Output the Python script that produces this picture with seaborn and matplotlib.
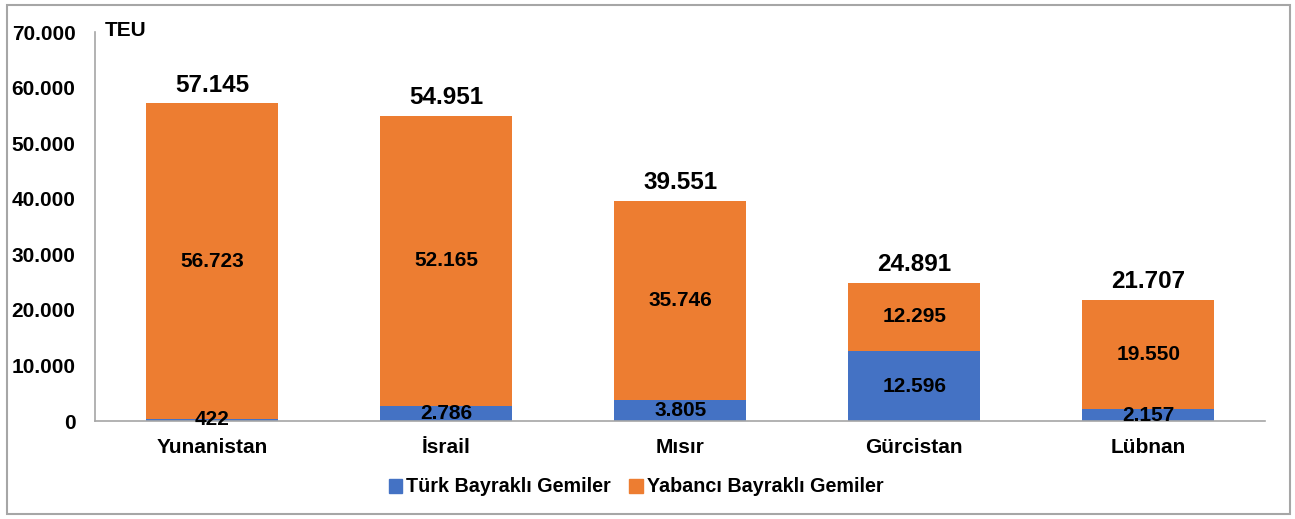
import matplotlib
matplotlib.use("Agg")
import matplotlib.pyplot as plt
import matplotlib.patches as mpatches
import seaborn as sns
import pandas as pd

categories = ["Yunanistan", "İsrail", "Mısır", "Gürcistan", "Lübnan"]
turk = [422, 2786, 3805, 12596, 2157]
foreign = [56723, 52165, 35746, 12295, 19550]
totals = [57145, 54951, 39551, 24891, 21707]
yticks = [0, 10000, 20000, 30000, 40000, 50000, 60000, 70000]

sns.set_theme(style="white")
plt.rcParams['font.family'] = ['Liberation Sans', 'DejaVu Sans']
plt.rcParams['text.color'] = 'black'
plt.rcParams['xtick.color'] = 'black'
plt.rcParams['ytick.color'] = 'black'

def fmt(v):
    return f"{int(v):,}".replace(",", ".")

blue = "#4472C4"
orange = "#ED7D31"

df = pd.DataFrame({"cat": categories, "turk": turk, "foreign": foreign, "total": totals})

fig = plt.figure(figsize=(12.95, 5.19), dpi=100)
ax = fig.add_axes([0.0734, 0.1888, 0.9036, 0.7495])

sns.barplot(data=df, x="cat", y="total", color=orange, width=0.565, saturation=1, ax=ax, linewidth=0)
sns.barplot(data=df, x="cat", y="turk", color=blue, width=0.565, saturation=1, ax=ax, linewidth=0)

orange_bars = ax.containers[0]
blue_bars = ax.containers[1]

for rect, f, t in zip(orange_bars, foreign, turk):
    cx = rect.get_x() + rect.get_width() / 2
    ax.text(cx, t + f / 2, fmt(f), ha="center", va="center", fontsize=15, fontweight="bold", color="black")
for rect, t in zip(blue_bars, turk):
    cx = rect.get_x() + rect.get_width() / 2
    ax.text(cx, t / 2, fmt(t), ha="center", va="center", fontsize=15, fontweight="bold", color="black")
ax.bar_label(orange_bars, labels=[fmt(v) for v in totals], padding=5, fontsize=17.5, fontweight="bold", color="black")

ax.set_xlim(-0.5, 4.5)
ax.set_ylim(0, 70000)
ax.set_yticks(yticks)
ax.set_yticklabels([fmt(v) for v in yticks], fontsize=15, fontweight="bold")
ax.tick_params(axis="y", length=0, pad=14)
ax.tick_params(axis="x", length=0, pad=12, labelsize=15)
for lab in ax.get_xticklabels():
    lab.set_fontweight("bold")
ax.set_xlabel("")
ax.set_ylabel("")
if ax.get_legend() is not None:
    ax.get_legend().remove()
for s in ["top", "right"]:
    ax.spines[s].set_visible(False)
for s in ["left", "bottom"]:
    ax.spines[s].set_color("#A6A6A6")
    ax.spines[s].set_linewidth(1.2)

fig.text(105 / 1295, 1 - 30 / 519, "TEU", fontsize=15, fontweight="bold", ha="left", va="center")

handles = [mpatches.Patch(color=blue, label="Türk Bayraklı Gemiler"),
           mpatches.Patch(color=orange, label="Yabancı Bayraklı Gemiler")]
fig.legend(handles=handles, loc="center", bbox_to_anchor=(636 / 1295, 1 - 487 / 519), ncol=2, frameon=False,
           prop={"weight": "bold", "size": 14.2}, handlelength=0.7, handleheight=0.7, handletextpad=0.2,
           columnspacing=0.9)

border = mpatches.Rectangle((7 / 1295, 1 - 514 / 519), (1290 - 7) / 1295, (514 - 5) / 519,
                            transform=fig.transFigure, fill=False, edgecolor="#A6A6A6", linewidth=1.5)
fig.patches.append(border)

fig.savefig("out.png", dpi=100)
